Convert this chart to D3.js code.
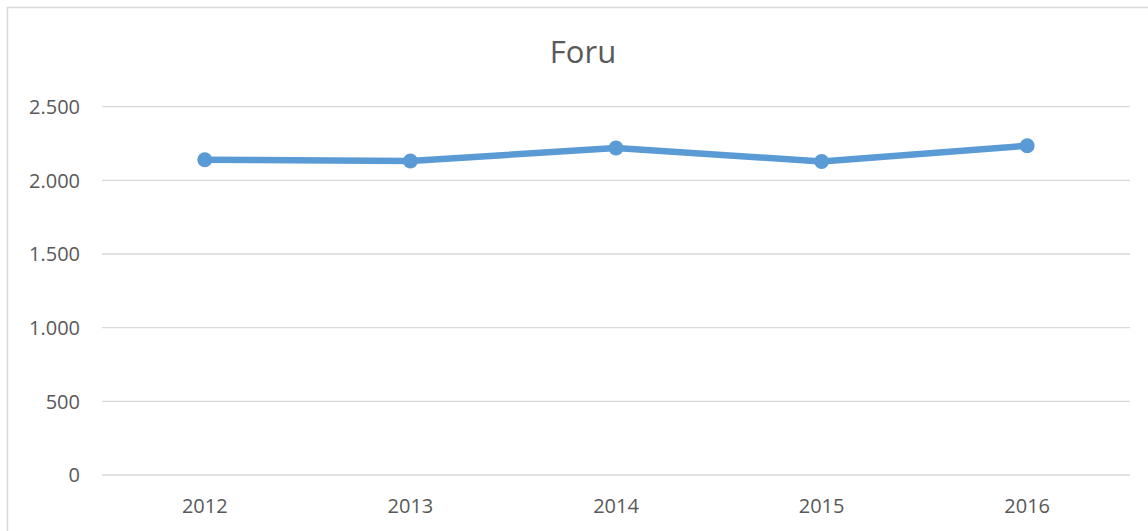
<!DOCTYPE html>
<html>
<head>
<meta charset="utf-8">
<script src="https://cdn.jsdelivr.net/npm/d3@7"></script>
<style>
  html, body { margin: 0; padding: 0; background: #fff; }
  svg { display: block; }
</style>
</head>
<body>
<div id="chart"></div>
<script>
// Chart data
const title = 'Foru';
const years = ['2012', '2013', '2014', '2015', '2016'];
const values = [2140, 2131, 2220, 2128, 2235];
const yTicks = [0, 500, 1000, 1500, 2000, 2500];

(function() {
  const W = 1148, H = 531;
  const plot = { left: 102, right: 1130, top: 106.7, bottom: 475 };
  const fontFamily = '"Open Sans", "Noto Sans", Arial, sans-serif';
  const textColor = '#595959';
  const gridColor = '#D9D9D9';
  const lineColor = '#5B9BD5';

  const svg = d3.select('#chart')
    .append('svg')
    .attr('width', W)
    .attr('height', H);

  // outer chart border (runs past the right and bottom edges)
  svg.append('rect')
    .attr('x', 7.5)
    .attr('y', 7.5)
    .attr('width', W + 20)
    .attr('height', H + 20)
    .attr('fill', '#fff')
    .attr('stroke', gridColor)
    .attr('stroke-width', 1.5);

  const x = d3.scaleBand()
    .domain(years)
    .range([plot.left, plot.right])
    .padding(0);

  const y = d3.scaleLinear()
    .domain([0, 2500])
    .range([plot.bottom, plot.top]);

  // thousands separator is a dot
  const locale = d3.formatLocale({ decimal: ',', thousands: '.', grouping: [3], currency: ['', ''] });
  const fmt = locale.format(',.0f');

  // gridlines
  svg.append('g')
    .selectAll('line')
    .data(yTicks)
    .enter()
    .append('line')
    .attr('x1', plot.left)
    .attr('x2', plot.right)
    .attr('y1', d => y(d))
    .attr('y2', d => y(d))
    .attr('stroke', gridColor)
    .attr('stroke-width', 1.3);

  // y axis labels
  svg.append('g')
    .selectAll('text')
    .data(yTicks)
    .enter()
    .append('text')
    .attr('x', plot.left - 22)
    .attr('y', d => y(d))
    .attr('dy', '0.36em')
    .attr('text-anchor', 'end')
    .style('font-family', fontFamily)
    .style('font-size', '20px')
    .style('fill', textColor)
    .text(d => fmt(d));

  // x axis labels
  svg.append('g')
    .selectAll('text')
    .data(years)
    .enter()
    .append('text')
    .attr('x', d => x(d) + x.bandwidth() / 2)
    .attr('y', plot.bottom + 38)
    .attr('text-anchor', 'middle')
    .style('font-family', fontFamily)
    .style('font-size', '20px')
    .style('fill', textColor)
    .text(d => d);

  const pts = years.map((yr, i) => ({ year: yr, value: values[i] }));

  // line
  const line = d3.line()
    .x(d => x(d.year) + x.bandwidth() / 2)
    .y(d => y(d.value));

  svg.append('path')
    .datum(pts)
    .attr('d', line)
    .attr('fill', 'none')
    .attr('stroke', lineColor)
    .attr('stroke-width', 6.5)
    .attr('stroke-linejoin', 'round');

  // markers
  svg.append('g')
    .selectAll('circle')
    .data(pts)
    .enter()
    .append('circle')
    .attr('cx', d => x(d.year) + x.bandwidth() / 2)
    .attr('cy', d => y(d.value))
    .attr('r', 7.5)
    .attr('fill', lineColor);

  // title
  svg.append('text')
    .attr('x', 583)
    .attr('y', 63)
    .attr('text-anchor', 'middle')
    .style('font-family', fontFamily)
    .style('font-size', '31px')
    .style('fill', textColor)
    .text(title);
})();
</script>
</body>
</html>
